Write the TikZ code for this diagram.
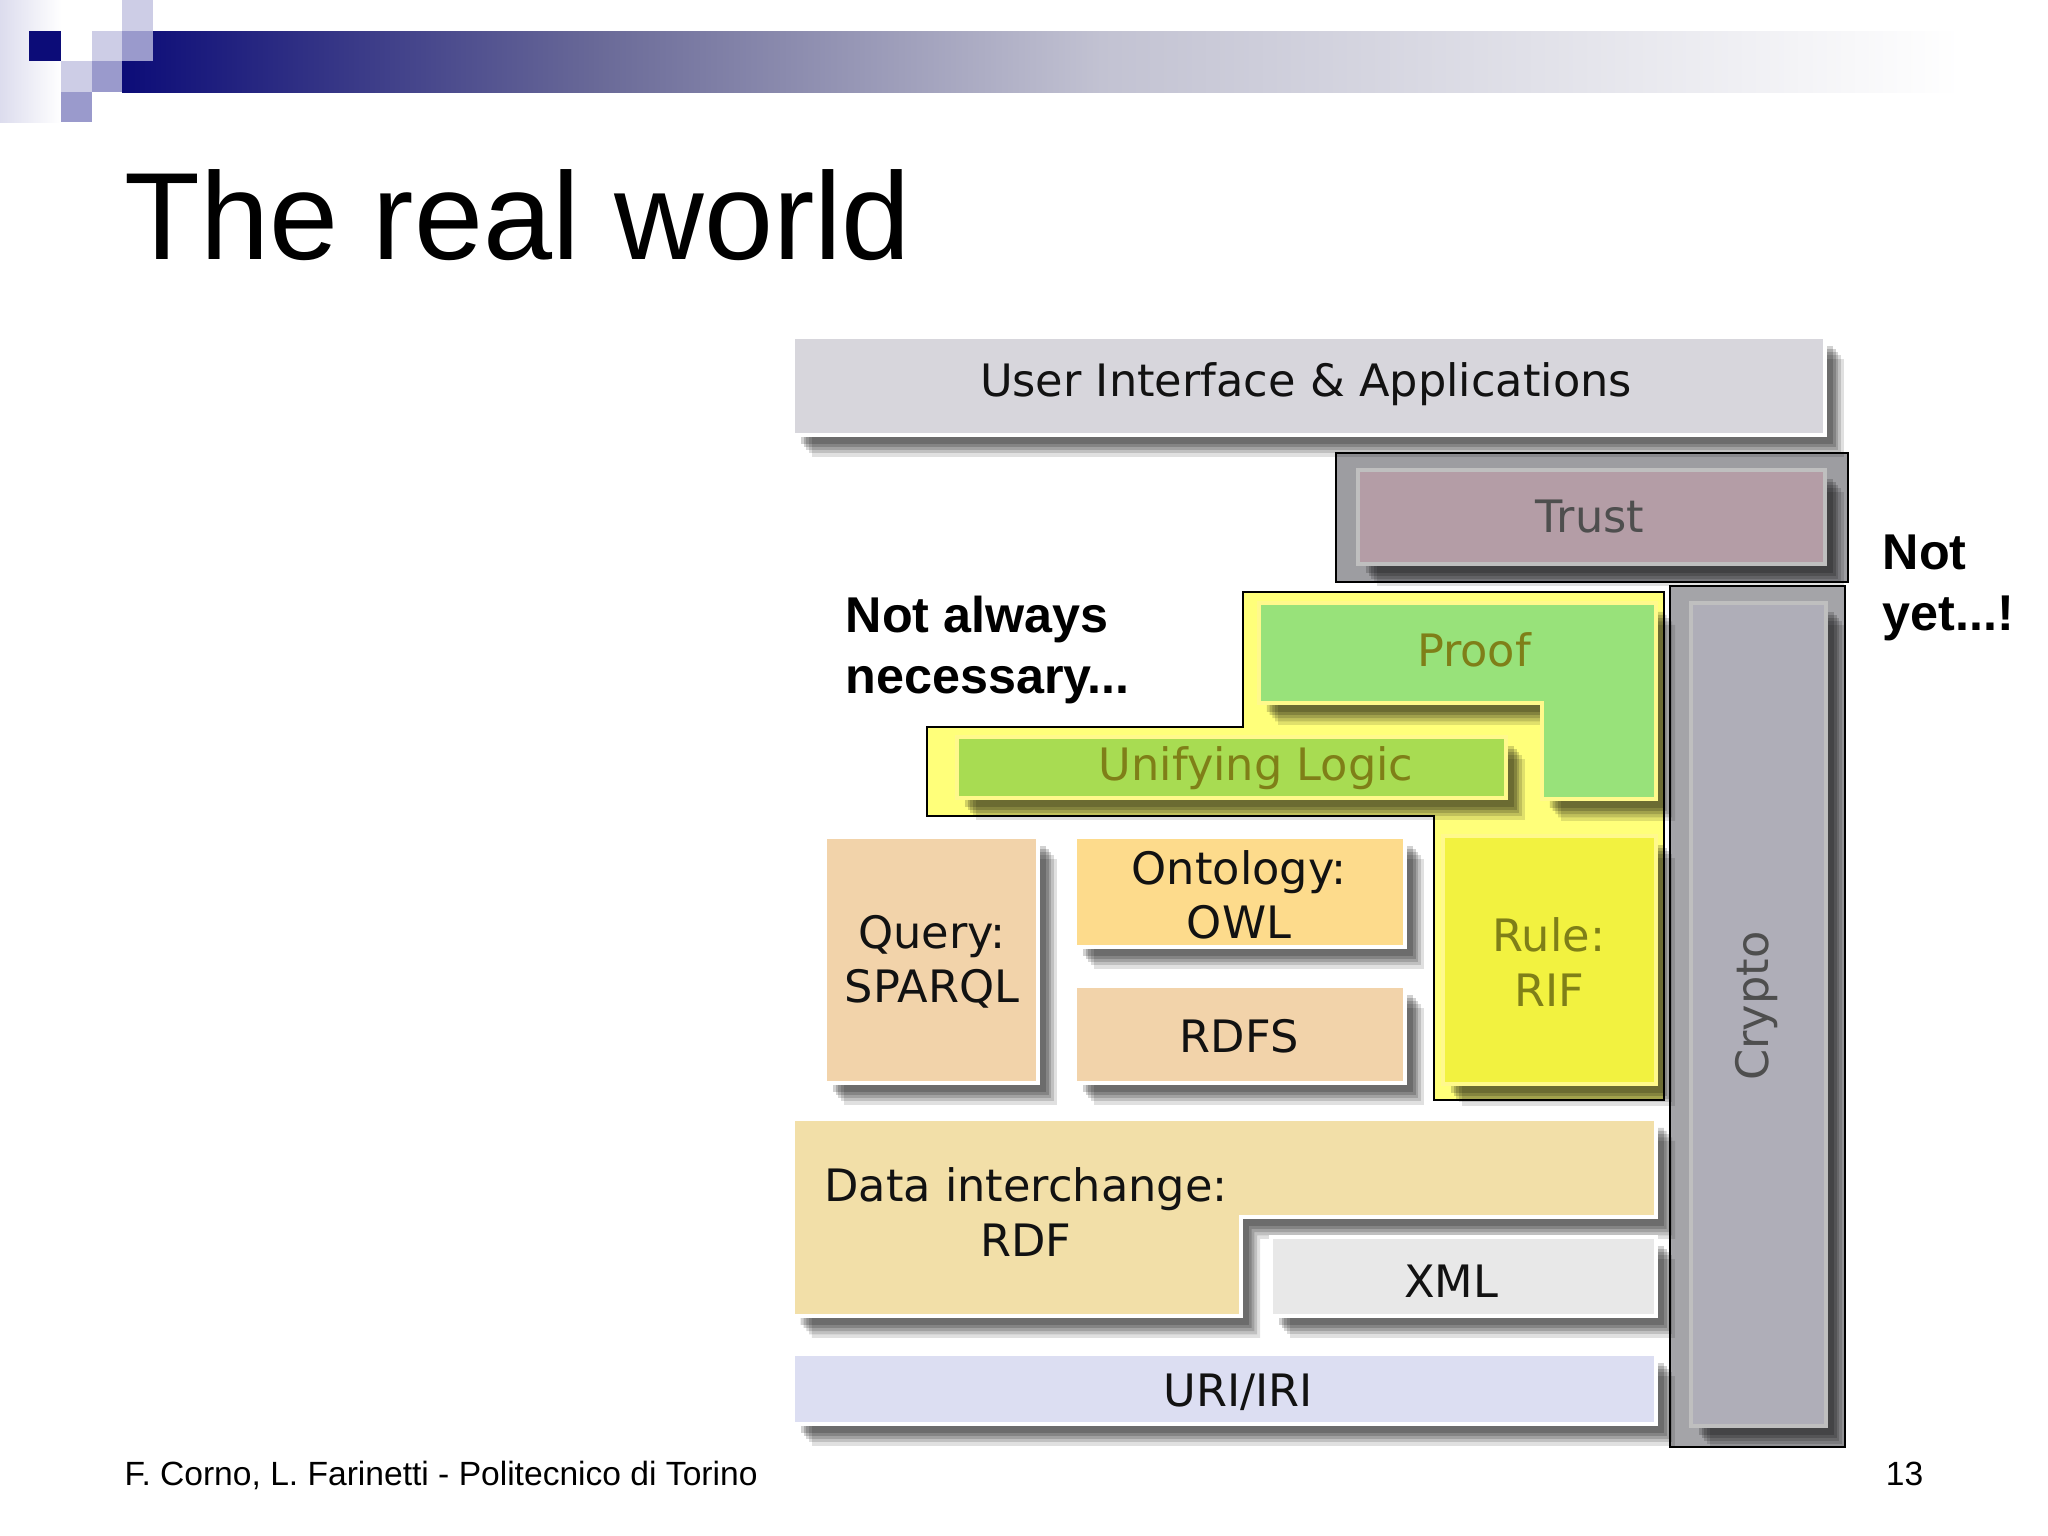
\documentclass[tikz,border=0pt]{standalone}
\usepackage{fontspec}
\setmainfont{Liberation Sans}
\newfontfamily\layerfont{DejaVu Sans}
\usepackage{tikz}
\usetikzlibrary{shadows}
\definecolor{navy}{HTML}{0C0C78}
\definecolor{barmid}{HTML}{6A6A98}
\definecolor{barlight}{HTML}{C2C2D2}
\definecolor{lavlight}{HTML}{CDCDE6}
\definecolor{lavmid}{HTML}{9A9ACC}
\definecolor{uigray}{HTML}{D7D6DC}
\definecolor{trustbg}{HTML}{9D9DA1}
\definecolor{trustfill}{HTML}{B49DA6}
\definecolor{cryptobg}{HTML}{A4A4A8}
\definecolor{cryptofill}{HTML}{AFAEB8}
\definecolor{regionyellow}{HTML}{FFFF7A}
\definecolor{proofgreen}{HTML}{98E27A}
\definecolor{logicgreen}{HTML}{A8DC52}
\definecolor{ruleyellow}{HTML}{F2F240}
\definecolor{peach}{HTML}{F2D3AA}
\definecolor{owlorange}{HTML}{FDDB8C}
\definecolor{rdftan}{HTML}{F2DFA8}
\definecolor{xmlgray}{HTML}{E8E8E8}
\definecolor{urilav}{HTML}{DCDEF2}
\definecolor{olivetext}{HTML}{7F7F18}
\definecolor{graytext}{HTML}{4E4E4E}

\begin{document}
\begin{tikzpicture}[x=0.01cm,y=-0.01cm,
  softshadow/.style={
    drop shadow={shadow xshift=5.4pt,shadow yshift=-6.2pt,opacity=0.12,fill=black},
    drop shadow={shadow xshift=4.6pt,shadow yshift=-5.2pt,opacity=0.14,fill=black},
    drop shadow={shadow xshift=3.8pt,shadow yshift=-4.3pt,opacity=0.16,fill=black},
    drop shadow={shadow xshift=3pt,shadow yshift=-3.4pt,opacity=0.18,fill=black},
    drop shadow={shadow xshift=2.2pt,shadow yshift=-2.5pt,opacity=0.18,fill=black}},
  layer/.style={softshadow,draw=white,line width=1.2pt,fill=#1},
  inlayer/.style={softshadow,draw=#1,line width=1.2pt},
  region/.style={draw=black,line width=0.8pt,fill=#1},
  layertext/.style={font=\layerfont\fontsize{12.7pt}{15.4pt}\selectfont,
    align=center,inner sep=0pt,text=black!93},
  note/.style={font=\bfseries\fontsize{14.3pt}{17.4pt}\selectfont,anchor=base west,inner sep=0pt}
]
\useasboundingbox (0,0) rectangle (2048,1536);

% header squares and bar
\shade[left color=lavlight!70,right color=white] (0,0) rectangle (61,122);
\shade[left color=navy,right color=barmid] (122,31) rectangle (601,92);
\shade[left color=barmid,right color=barlight] (600,31) rectangle (1101,92);
\shade[left color=barlight,right color=white] (1100,31) rectangle (1960,92);
\fill[lavlight] (122,0) rectangle (153,31);
\fill[navy] (29,31) rectangle (61,61);
\fill[lavlight] (92,31) rectangle (122,61);
\fill[lavmid] (122,31) rectangle (153,61);
\fill[lavlight] (61,61) rectangle (92,92);
\fill[lavmid] (92,61) rectangle (122,92);
\fill[lavmid] (61,92) rectangle (92,122);

\node[anchor=base west,inner sep=0pt,font=\fontsize{35.3pt}{40pt}\selectfont] (title) at (124,259) {The real world};

% framed regions
\path[region=trustbg] (1336,453) rectangle (1848,582);
\path[region=cryptobg] (1670,586) rectangle (1845,1447);
\path[region=regionyellow] (1243,592) -- (1664,592) -- (1664,1100) -- (1434,1100)
  -- (1434,816) -- (927,816) -- (927,727) -- (1243,727) -- cycle;

% layers
\path[layer=uigray] (793,337) rectangle (1825,435);
\path[inlayer=black!25,fill=trustfill] (1358,470) rectangle (1825,564);
\path[inlayer=black!25,fill=cryptofill] (1691,603) rectangle (1826,1426);
\path[inlayer=yellow!45,fill=proofgreen] (1259,603) -- (1656,603) -- (1656,799)
  -- (1542,799) -- (1542,703) -- (1259,703) -- cycle;
\path[inlayer=yellow!45,fill=logicgreen] (957,737) rectangle (1506,798);
\path[inlayer=yellow!45,fill=ruleyellow] (1443,836) rectangle (1656,1084);
\path[layer=peach] (825,837) rectangle (1038,1083);
\path[layer=owlorange] (1075,837) rectangle (1405,947);
\path[layer=peach] (1075,986) rectangle (1405,1083);
\path[layer=rdftan] (793,1119) -- (1656,1119) -- (1656,1217) -- (1241,1217)
  -- (1241,1316) -- (793,1316) -- cycle;
\path[layer=xmlgray] (1271,1237) rectangle (1656,1316);
\path[layer=urilav] (793,1354) rectangle (1656,1424);

% layer labels
\node[layertext] (ui) at (1306,384) {User Interface \& Applications};
\node[layertext,text=graytext] (trust) at (1590,517) {Trust};
\node[layertext,text=graytext,rotate=90] (crypto) at (1757,1006) {Crypto};
\node[layertext,text=olivetext] (proof) at (1474,650) {Proof};
\node[layertext,text=olivetext] (logic) at (1256,768) {Unifying Logic};
\node[layertext,text=olivetext] (rule) at (1549,962) {Rule:\\RIF};
\node[layertext] (query) at (932,962) {Query:\\SPARQL};
\node[layertext] (owl) at (1239,895) {Ontology:\\OWL};
\node[layertext] (rdfs) at (1239,1036) {RDFS};
\node[layertext] (rdf) at (1026,1212) {Data interchange:\\RDF};
\node[layertext] (xml) at (1451,1281) {XML};
\node[layertext] (uri) at (1238,1392) {URI/IRI};

% side notes
\node[note] (always) at (845,632) {Not always};
\node[note] (necessary) at (845,693) {necessary...};
\node[note] (notw) at (1882,569) {Not};
\node[note] (yet) at (1882,630) {yet...!};

% footer
\node[anchor=base west,inner sep=0pt,font=\fontsize{9.55pt}{11pt}\selectfont] (footer) at (124,1485) {F. Corno, L. Farinetti - Politecnico di Torino};
\node[anchor=base east,inner sep=0pt,font=\fontsize{9.55pt}{11pt}\selectfont] (page) at (1924,1485) {13};
\end{tikzpicture}
\end{document}
